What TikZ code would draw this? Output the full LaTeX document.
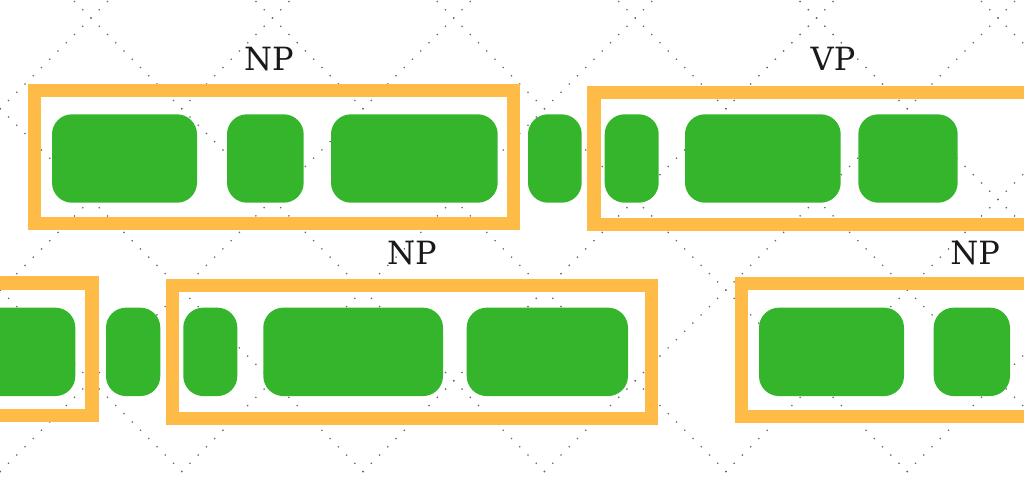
\documentclass[tikz,border=0pt]{standalone}
\usepackage{fontspec}
\setmainfont{DejaVu Serif}
\usepackage{xcolor}
\usepackage{tikz}
\usetikzlibrary{positioning}
\definecolor{chunkorange}{RGB}{255,187,72}
\definecolor{wordgreen}{RGB}{52,181,43}
\tikzset{
  word/.style   ={rectangle, fill=wordgreen, rounded corners=20pt, inner sep=0pt, minimum height=88.4pt},
  chunk/.style  ={rectangle, draw=chunkorange, line width=13.3pt, inner sep=0pt, minimum height=132.8pt},
  tag/.style    ={font=\fontsize{32}{36}\selectfont, text=black!90, inner sep=0pt, anchor=base},
  lattice/.style={black!60, line width=1.8pt, line cap=round, dash pattern=on 0pt off 11.661pt},
}

\begin{document}
\begin{tikzpicture}[x=1pt, y=-1pt]
  \useasboundingbox (0,0) rectangle (1024,477);
  \begin{scope}
  \clip (0,0) rectangle (1024,477);

  % dotted diagonal lattice
  \foreach \k in {-3,...,5}
    \draw[lattice] ({91+181.4*\k-544.2},-526.2) -- ({91+181.4*\k+544.2},562.2);
  \foreach \k in {-1,...,8}
    \draw[lattice] ({91+181.4*\k+544.2},-526.2) -- ({91+181.4*\k-544.2},562.2);

  % chunk frames
  \node[chunk, minimum width=479pt, minimum height=133pt] (np1) at (274,157) {};
  \node[chunk, minimum width=466pt, minimum height=132.4pt] (vp) at (827,158.4) {};
  \node[chunk, minimum width=152pt, minimum height=132.7pt] (np0) at (16,349.35) {};
  \node[chunk, minimum width=478.9pt] (np2) at (412.25,351.9) {};
  \node[chunk, minimum width=318.2pt, minimum height=132.9pt] (np3) at (900.9,350.25) {};

  % words, first row
  \node[word, minimum width=145pt]   (w1) at (124.5,158.5) {};
  \node[word, minimum width=76.7pt]  (w2) at (265.35,158.5) {};
  \node[word, minimum width=166.7pt] (w3) at (414.35,158.5) {};
  \node[word, minimum width=53.7pt]  (w4) at (554.85,158.5) {};
  \node[word, minimum width=54pt]    (w5) at (631.7,158.5) {};
  \node[word, minimum width=155.7pt] (w6) at (762.85,158.5) {};
  \node[word, minimum width=99.4pt]  (w7) at (908,158.5) {};

  % words, second row
  \node[word, minimum width=145.3pt] (w8)  at (2.65,351.85) {};
  \node[word, minimum width=54.3pt]  (w9)  at (133.15,351.85) {};
  \node[word, minimum width=54pt]    (w10) at (210.3,351.85) {};
  \node[word, minimum width=179.7pt] (w11) at (353.15,351.85) {};
  \node[word, minimum width=161.3pt] (w12) at (547.35,351.85) {};
  \node[word, minimum width=145pt]   (w13) at (831.5,351.85) {};
  \node[word, minimum width=76.3pt]  (w14) at (971.85,351.85) {};

  % chunk tags
  \node[tag] (np1tag) at (269,70.7) {NP};
  \node[tag] (vptag)  at (833,70.7) {VP};
  \node[tag] (np2tag) at (412,264.7) {NP};
  \node[tag] (np3tag) at (975,264.7) {NP};
  \end{scope}
\end{tikzpicture}
\end{document}
